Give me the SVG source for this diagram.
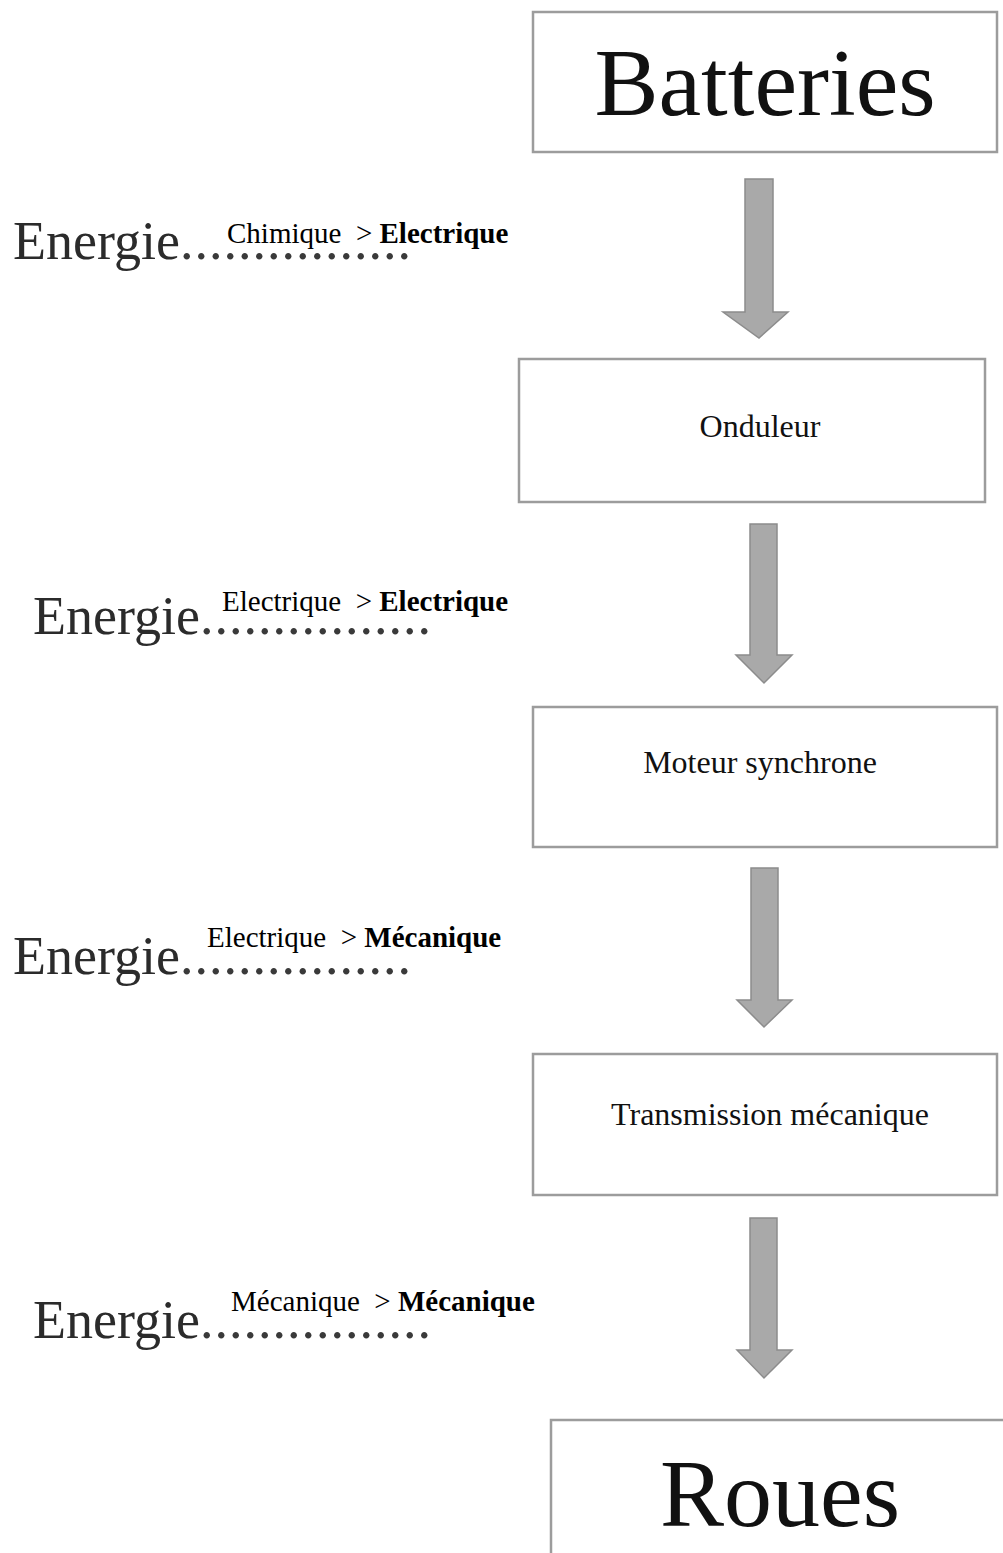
<svg xmlns="http://www.w3.org/2000/svg" width="1003" height="1553" viewBox="0 0 1003 1553">
  <style>
    .box { fill: #ffffff; stroke: #9c9c9c; stroke-width: 2.5; }
    .big { font-family: "Liberation Serif", "Times New Roman", serif; font-size: 96px; fill: #111; }
    .mid { font-family: "Liberation Serif", "Times New Roman", serif; font-size: 32px; fill: #111; }
    .energie { font-family: "Liberation Serif", "Times New Roman", serif; font-size: 54px; fill: #2b2b2b; }
    .dots { letter-spacing: 1px; fill: #3a3a3a; }
    .lbl { font-family: "Liberation Serif", "Times New Roman", serif; font-size: 29px; fill: #000; }
    .b { font-weight: bold; }
    .arrow { fill: #a9a9a9; stroke: #8c8c8c; stroke-width: 1.5; stroke-linejoin: miter; }
  </style>
  <rect x="0" y="0" width="1003" height="1553" fill="#ffffff"/>

  <g id="connectors">
    <polygon class="arrow" points="745,179 773,179 773,312 788,312 759,338 723,312 745,312"/>
    <polygon class="arrow" points="750,524 777,524 777,655 792,655 764,683 736,655 750,655"/>
    <polygon class="arrow" points="751,868 778,868 778,1000 792,1000 764,1027 737,1000 751,1000"/>
    <polygon class="arrow" points="750,1218 777,1218 777,1350 792,1350 764,1378 737,1350 750,1350"/>
  </g>

  <g id="node-batteries">
    <rect class="box" x="533" y="12" width="464" height="140"/>
    <text class="big" x="765" y="115" text-anchor="middle">Batteries</text>
  </g>
  <g id="node-onduleur">
    <rect class="box" x="519" y="359" width="466" height="143"/>
    <text class="mid" x="760" y="437" text-anchor="middle">Onduleur</text>
  </g>
  <g id="node-moteur">
    <rect class="box" x="533" y="707" width="464" height="140"/>
    <text class="mid" x="760" y="773" text-anchor="middle">Moteur synchrone</text>
  </g>
  <g id="node-transmission">
    <rect class="box" x="533" y="1054" width="464" height="141"/>
    <text class="mid" x="770" y="1125" text-anchor="middle">Transmission mécanique</text>
  </g>
  <g id="node-roues">
    <rect class="box" x="551" y="1420" width="470" height="160"/>
    <text class="big" x="780" y="1526" text-anchor="middle">Roues</text>
  </g>

  <g id="label-1">
    <text class="energie" x="13" y="259">Energie<tspan class="dots">................</tspan></text>
    <text class="lbl" x="227" y="243" xml:space="preserve">Chimique  &gt; <tspan class="b">Electrique</tspan></text>
  </g>
  <g id="label-2">
    <text class="energie" x="33" y="634">Energie<tspan class="dots">................</tspan></text>
    <text class="lbl" x="222" y="611" xml:space="preserve">Electrique  &gt; <tspan class="b">Electrique</tspan></text>
  </g>
  <g id="label-3">
    <text class="energie" x="13" y="974">Energie<tspan class="dots">................</tspan></text>
    <text class="lbl" x="207" y="947" xml:space="preserve">Electrique  &gt; <tspan class="b">Mécanique</tspan></text>
  </g>
  <g id="label-4">
    <text class="energie" x="33" y="1338">Energie<tspan class="dots">................</tspan></text>
    <text class="lbl" x="231" y="1311" xml:space="preserve">Mécanique  &gt; <tspan class="b">Mécanique</tspan></text>
  </g>
</svg>
